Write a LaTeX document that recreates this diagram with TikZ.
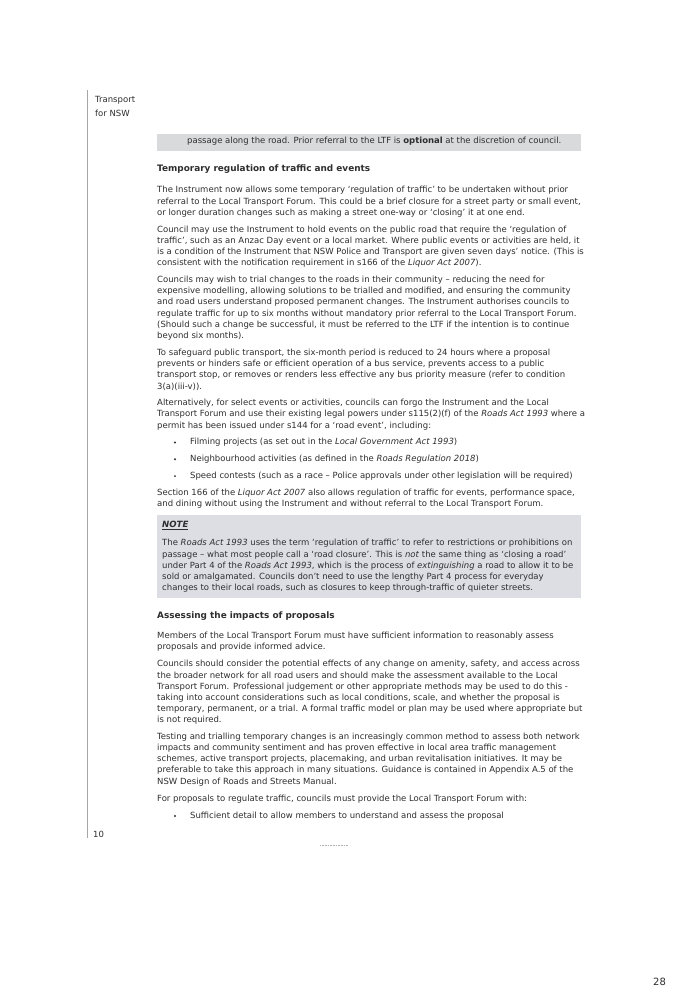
\documentclass[tikz,border=0pt]{standalone}
\usepackage{fontspec}
\setmainfont{DejaVu Sans}
\usepackage{tikz}
\usetikzlibrary{positioning}
\definecolor{ink}{HTML}{2e2e30}
\definecolor{fgray}{HTML}{d9dadc}
\definecolor{ngray}{HTML}{dcdee3}

\begin{document}
\begin{tikzpicture}[x=1pt, y=-1pt, line join=bevel,
  txt/.style={anchor=west, inner sep=0pt, text=ink, font=\fontsize{8.5}{9}\selectfont},
  head/.style={txt, font=\fontsize{8.9}{10}\selectfont\bfseries},
  dot/.style={circle, fill=ink, inner sep=0pt, minimum size=2.2pt}]

\useasboundingbox[fill=white] (0,0) rectangle (682,989);

% margin
\draw[gray!70, line width=.6pt] (87,90)--(87,838);
\node[txt] (brand1) at (95,100) {Transport};
\node[txt] (brand2) at (95,113) {for NSW};
\node[txt] (pnum) at (93,834) {10};
\node[txt, font=\fontsize{10}{12}\selectfont] (pnum2) at (653,982) {28};
\draw[gray!60, line width=.5pt, dash pattern=on 1pt off .6pt] (320,845)--(348,845);

% boxes
\fill[fgray] (157,134) rectangle (581,151);
\fill[ngray] (157,515) rectangle (581,598);

\node[txt] (box1) at (187,141) {passage along the road. Prior referral to the LTF is \textbf{optional} at the discretion of council.};

\node[head] (h1) at (157,169) {Temporary regulation of traffic and events};

\node[txt] (a1) at (157,190.5) {The Instrument now allows some temporary ‘regulation of traffic’ to be undertaken without prior};
\node[txt] (a2) at (157,201.7) {referral to the Local Transport Forum. This could be a brief closure for a street party or small event,};
\node[txt] (a3) at (157,212.9) {or longer duration changes such as making a street one-way or ‘closing’ it at one end.};

\node[txt] (b1) at (157,229.7) {Council may use the Instrument to hold events on the public road that require the ‘regulation of};
\node[txt] (b2) at (157,240.9) {traffic’, such as an Anzac Day event or a local market. Where public events or activities are held, it};
\node[txt] (b3) at (157,252.1) {is a condition of the Instrument that NSW Police and Transport are given seven days’ notice. (This is};
\node[txt] (b4) at (157,263.3) {consistent with the notification requirement in s166 of the \textit{Liquor Act 2007}).};

\node[txt] (c1) at (157,280.1) {Councils may wish to trial changes to the roads in their community – reducing the need for};
\node[txt] (c2) at (157,291.3) {expensive modelling, allowing solutions to be trialled and modified, and ensuring the community};
\node[txt] (c3) at (157,302.5) {and road users understand proposed permanent changes. The Instrument authorises councils to};
\node[txt] (c4) at (157,313.7) {regulate traffic for up to six months without mandatory prior referral to the Local Transport Forum.};
\node[txt] (c5) at (157,324.9) {(Should such a change be successful, it must be referred to the LTF if the intention is to continue};
\node[txt] (c6) at (157,336.1) {beyond six months).};

\node[txt] (d1) at (157,352.9) {To safeguard public transport, the six-month period is reduced to 24 hours where a proposal};
\node[txt] (d2) at (157,364.1) {prevents or hinders safe or efficient operation of a bus service, prevents access to a public};
\node[txt] (d3) at (157,375.3) {transport stop, or removes or renders less effective any bus priority measure (refer to condition};
\node[txt] (d4) at (157,386.5) {3(a)(iii-v)).};

\node[txt] (e1) at (157,403.3) {Alternatively, for select events or activities, councils can forgo the Instrument and the Local};
\node[txt] (e2) at (157,414.5) {Transport Forum and use their existing legal powers under s115(2)(f) of the \textit{Roads Act 1993} where a};
\node[txt] (e3) at (157,425.7) {permit has been issued under s144 for a ‘road event’, including:};

\foreach \y/\t [count=\i] in {442.5/{Filming projects (as set out in the \textit{Local Government Act 1993})},
  459.3/{Neighbourhood activities (as defined in the \textit{Roads Regulation 2018})},
  476.1/{Speed contests (such as a race – Police approvals under other legislation will be required)}}{
  \node[dot] (bd\i) at (175,\y) {};
  \node[txt] (bt\i) at (190,\y) {\t};
}

\node[txt] (f1) at (157,492.9) {Section 166 of the \textit{Liquor Act 2007} also allows regulation of traffic for events, performance space,};
\node[txt] (f2) at (157,504.1) {and dining without using the Instrument and without referral to the Local Transport Forum.};

\node[txt, font=\fontsize{8.6}{9}\selectfont\bfseries\itshape] (note) at (162,525.7) {\underline{NOTE}};
\node[txt] (n1) at (162,543.3) {The \textit{Roads Act 1993} uses the term ‘regulation of traffic’ to refer to restrictions or prohibitions on};
\node[txt] (n2) at (162,554.7) {passage – what most people call a ‘road closure’. This is \textit{not} the same thing as ‘closing a road’};
\node[txt] (n3) at (162,566) {under Part 4 of the \textit{Roads Act 1993}, which is the process of \textit{extinguishing} a road to allow it to be};
\node[txt] (n4) at (162,577) {sold or amalgamated. Councils don’t need to use the lengthy Part 4 process for everyday};
\node[txt] (n5) at (162,588.3) {changes to their local roads, such as closures to keep through-traffic of quieter streets.};

\node[head] (h2) at (157,616) {Assessing the impacts of proposals};

\node[txt] (g1) at (157,636) {Members of the Local Transport Forum must have sufficient information to reasonably assess};
\node[txt] (g2) at (157,647) {proposals and provide informed advice.};

\node[txt] (k1) at (157,664) {Councils should consider the potential effects of any change on amenity, safety, and access across};
\node[txt] (k2) at (157,675) {the broader network for all road users and should make the assessment available to the Local};
\node[txt] (k3) at (157,686.7) {Transport Forum. Professional judgement or other appropriate methods may be used to do this -};
\node[txt] (k4) at (157,697.7) {taking into account considerations such as local conditions, scale, and whether the proposal is};
\node[txt] (k5) at (157,709) {temporary, permanent, or a trial. A formal traffic model or plan may be used where appropriate but};
\node[txt] (k6) at (157,720) {is not required.};

\node[txt] (m1) at (157,736.7) {Testing and trialling temporary changes is an increasingly common method to assess both network};
\node[txt] (m2) at (157,748) {impacts and community sentiment and has proven effective in local area traffic management};
\node[txt] (m3) at (157,759) {schemes, active transport projects, placemaking, and urban revitalisation initiatives. It may be};
\node[txt] (m4) at (157,770.3) {preferable to take this approach in many situations. Guidance is contained in Appendix A.5 of the};
\node[txt] (m5) at (157,781.7) {NSW Design of Roads and Streets Manual.};

\node[txt] (q1) at (157,798.7) {For proposals to regulate traffic, councils must provide the Local Transport Forum with:};
\node[dot] (qd) at (175,816) {};
\node[txt] (qt) at (190,816) {Sufficient detail to allow members to understand and assess the proposal};

\end{tikzpicture}
\end{document}
